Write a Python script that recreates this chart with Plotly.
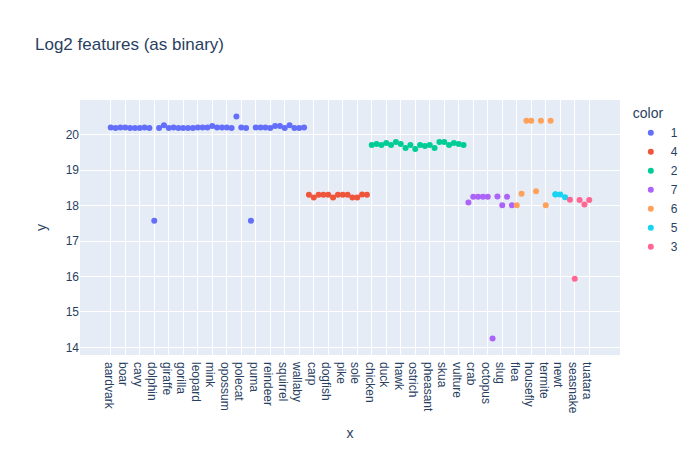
#!/usr/bin/env python

import plotly.express as px

# animal names grouped by class (zoo data, sorted by class_type)
mammals = ['aardvark', 'antelope', 'bear', 'boar', 'buffalo', 'calf', 'cavy', 'cheetah', 'deer', 'dolphin',
           'elephant', 'fruitbat', 'giraffe', 'girl', 'goat', 'gorilla', 'hamster', 'hare', 'leopard', 'lion',
           'lynx', 'mink', 'mole', 'mongoose', 'opossum', 'oryx', 'platypus', 'polecat', 'pony', 'porpoise',
           'puma', 'pussycat', 'raccoon', 'reindeer', 'seal', 'sealion', 'squirrel', 'vampire', 'vole', 'wallaby',
           'wolf']
mammals_y = [20.207, 20.187, 20.207, 20.207, 20.187, 20.187, 20.187, 20.207, 20.187, 17.574,
             20.187, 20.264, 20.187, 20.207, 20.187, 20.187, 20.187, 20.187, 20.207, 20.207,
             20.207, 20.246, 20.207, 20.207, 20.207, 20.187, 20.514, 20.207, 20.187, 17.574,
             20.207, 20.207, 20.207, 20.187, 20.246, 20.246, 20.187, 20.264, 20.187, 20.187,
             20.207]

fish = ['bass', 'carp', 'catfish', 'chub', 'dogfish', 'haddock', 'herring', 'pike', 'piranha', 'seahorse',
        'sole', 'stingray', 'tuna']
fish_y = [18.306, 18.231, 18.306, 18.306, 18.306, 18.231, 18.306, 18.306, 18.306, 18.231,
          18.231, 18.311, 18.306]

birds = ['chicken', 'crow', 'dove', 'duck', 'flamingo', 'gull', 'hawk', 'kiwi', 'lark', 'ostrich',
         'parakeet', 'penguin', 'pheasant', 'rhea', 'skimmer', 'skua', 'sparrow', 'swan', 'vulture', 'wren']
birds_y = [19.711, 19.738, 19.711, 19.765, 19.711, 19.791, 19.738, 19.626, 19.711, 19.596,
           19.711, 19.683, 19.711, 19.626, 19.791, 19.791, 19.711, 19.765, 19.738, 19.711]

invertebrates = ['clam', 'crab', 'crayfish', 'lobster', 'octopus', 'scorpion', 'seawasp', 'slug', 'starfish', 'worm']
invertebrates_y = [18.088, 18.248, 18.248, 18.248, 18.248, 14.249, 18.253, 18.011, 18.248, 18.011]

insects = ['flea', 'gnat', 'honeybee', 'housefly', 'ladybird', 'moth', 'termite', 'wasp']
insects_y = [18.011, 18.331, 20.396, 20.394, 18.401, 20.394, 18.011, 20.396]

amphibians = ['frog', 'frog', 'newt', 'toad']
amphibians_y = [18.313, 18.317, 18.313, 18.238]

reptiles = ['pitviper', 'seasnake', 'slowworm', 'tortoise', 'tuatara']
reptiles_y = [18.165, 15.937, 18.160, 18.033, 18.160]

groups = [('1', mammals, mammals_y), ('4', fish, fish_y), ('2', birds, birds_y),
          ('7', invertebrates, invertebrates_y), ('6', insects, insects_y),
          ('5', amphibians, amphibians_y), ('3', reptiles, reptiles_y)]

x = []
y = []
color = []
for cls, names, vals in groups:
    x += names
    y += vals
    color += [cls] * len(names)

fig = px.scatter(x=x, y=y, color=color, title='Log2 features (as binary)')
fig.update_layout(font_family='Arial', width=700, height=450)
fig.update_yaxes(dtick=1)
# no page margin, so the 700x450 figure fills the window
fig.write_html('out.html', config={'displayModeBar': False},
               post_script="document.body.style.margin='0';")
